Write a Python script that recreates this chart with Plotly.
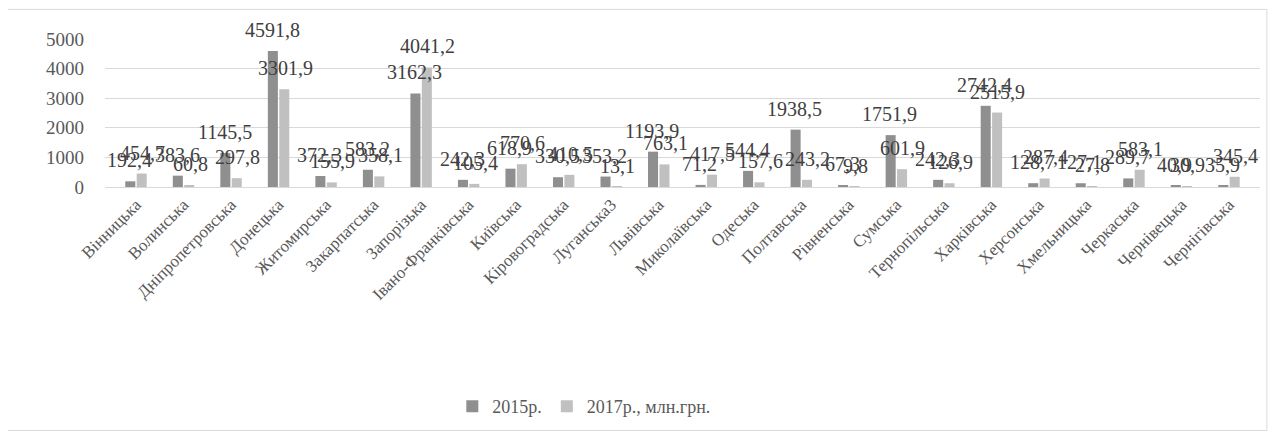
import plotly.graph_objects as go

regions = ["Вінницька", "Волинська", "Дніпропетровська", "Донецька", "Житомирська",
           "Закарпатська", "Запорізька", "Івано-Франківська", "Київська", "Кіровоградська",
           "Луганська3", "Львівська", "Миколаївська", "Одеська", "Полтавська", "Рівненська",
           "Сумська", "Тернопільська", "Харківська", "Херсонська", "Хмельницька",
           "Черкаська", "Чернівецька", "Чернігівська"]
v2015 = [192.4, 383.6, 1145.5, 4591.8, 372.3, 583.2, 3162.3, 242.3, 618.9, 330.5,
         353.2, 1193.9, 71.2, 544.4, 1938.5, 67.3, 1751.9, 242.3, 2742.4, 128.7,
         127.1, 289.7, 40.9, 35.9]
v2017 = [454.7, 60.8, 297.8, 3301.9, 155.9, 358.1, 4041.2, 105.4, 770.6, 410.5,
         13.1, 763.1, 417.5, 157.6, 243.2, 9.8, 601.9, 126.9, 2515.9, 287.4,
         27.8, 583.1, 30.9, 345.4]
series_names = ["2015р.", "2017р., млн.грн."]
y_ticks = [0, 1000, 2000, 3000, 4000, 5000]

SERIF = "Liberation Serif"
colors = ["#8f8f8f", "#c0c0c0"]

def fmt(v):
    return f"{v:.1f}".replace(".", ",")

fig = go.Figure()
for name, vals, col in zip(series_names, [v2015, v2017], colors):
    fig.add_trace(go.Bar(x=regions, y=vals, name=name, marker_color=col,
                         marker_line_width=0, hoverinfo="skip"))

annotations = []
for vals, dx in [(v2015, -6.5), (v2017, 6.5)]:
    for r, v in zip(regions, vals):
        annotations.append(dict(x=r, y=v, text=fmt(v), showarrow=False,
                                xshift=dx, yshift=8, yanchor="bottom",
                                font=dict(family=SERIF, size=20, color="#404040")))

fig.update_layout(
    width=1261, height=425,
    margin=dict(l=97, r=9, t=31, b=246),
    paper_bgcolor="white", plot_bgcolor="white",
    barmode="group", bargap=0.52, bargroupgap=0.12,
    showlegend=True,
    legend=dict(orientation="h", x=0.415, xanchor="center", y=-1.483, yanchor="middle",
                font=dict(family=SERIF, size=18, color="#595959"),
                itemwidth=30, tracegroupgap=0),
    annotations=annotations,
    shapes=[dict(type="rect", xref="paper", yref="paper",
                 x0=-0.0866, x1=1.006, y0=-1.645, y1=1.2,
                 line=dict(color="#d9d9d9", width=1), fillcolor="rgba(0,0,0,0)",
                 layer="below")],
)
fig.update_xaxes(tickangle=-45, showgrid=False, showline=True, linecolor="#d9d9d9",
                 linewidth=1, ticks="",
                 tickfont=dict(family=SERIF, size=17, color="#595959"))
fig.update_yaxes(range=[0, 5000], tickvals=y_ticks, ticktext=[str(t) for t in y_ticks],
                 showgrid=True, gridcolor="#d9d9d9", gridwidth=1, zeroline=False,
                 showline=False, ticks="", ticklabelstandoff=20,
                 tickfont=dict(family=SERIF, size=19, color="#595959"))

fig.write_html("out.html")
